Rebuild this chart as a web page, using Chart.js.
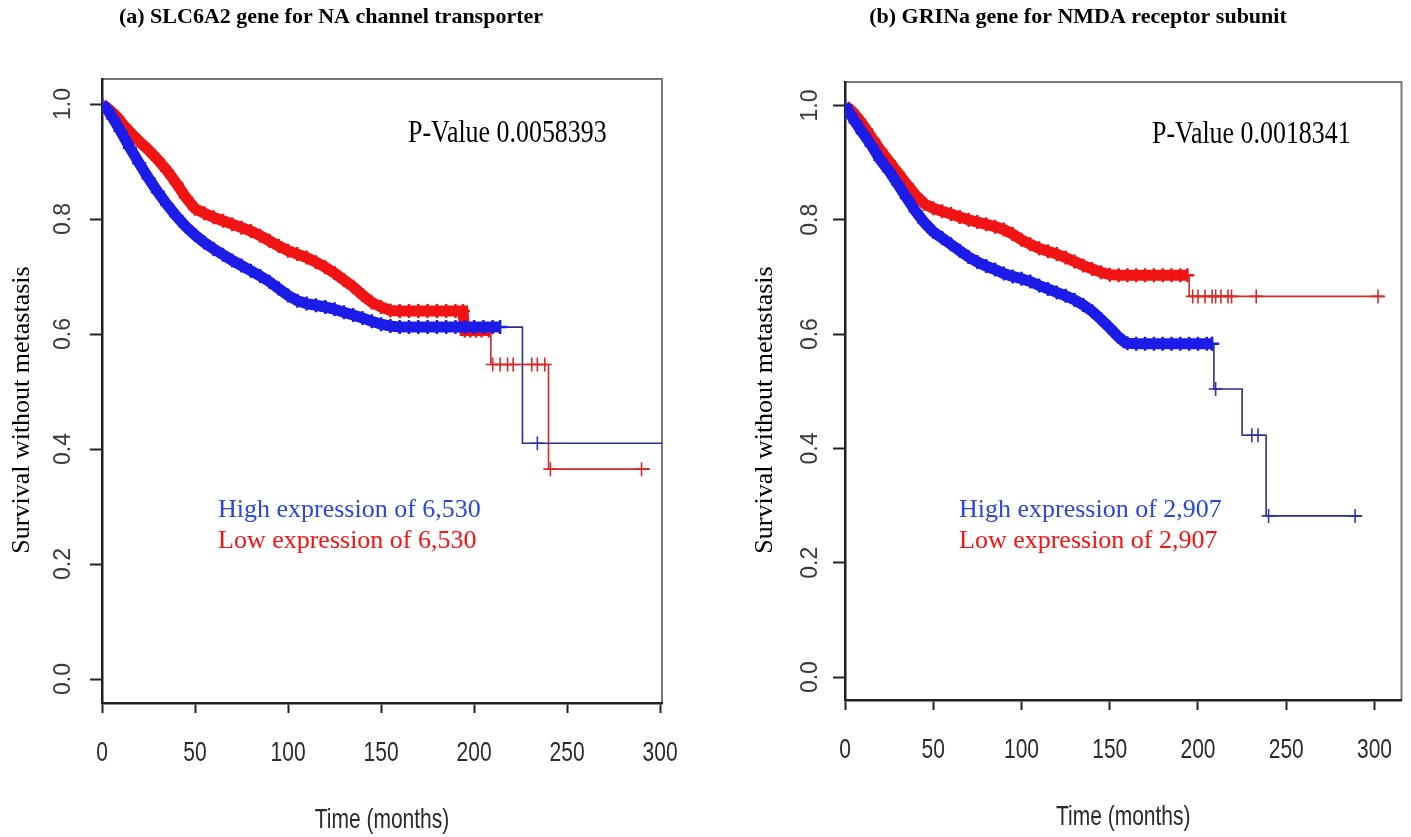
<!DOCTYPE html>
<html>
<head>
<meta charset="utf-8">
<title>Survival without metastasis</title>
<style>
  body { margin: 0; background: #fff; }
  .wrap { position: relative; width: 1411px; height: 837px; }
  canvas { position: absolute; top: 0; }
  #chartA { left: 0; }
  #chartB { left: 705px; }
</style>
</head>
<body>
<div class="wrap">
  <canvas id="chartA" width="705" height="837"></canvas>
  <canvas id="chartB" width="706" height="837"></canvas>
</div>

<script src="https://cdn.jsdelivr.net/npm/chart.js"></script>
<script>

// axis ticks
const xTicks = [0, 50, 100, 150, 200, 250, 300];
const yTicks = [0, 0.2, 0.4, 0.6, 0.8, 1.0];

// (a) SLC6A2 - high expression (blue), dense part
const aHighTime = [0, 3, 6, 10, 15, 20, 25, 30, 35, 40, 45, 50, 55, 60, 65, 70, 75, 80, 85, 90, 95, 100, 105, 110, 115, 120, 125, 130, 135, 140, 145, 150, 155, 160, 165, 170, 175, 180, 185, 190, 195, 200, 205, 210, 214];
const aHighSurv = [1.0, 0.99, 0.975, 0.953, 0.924, 0.897, 0.871, 0.847, 0.825, 0.805, 0.787, 0.772, 0.759, 0.748, 0.738, 0.728, 0.719, 0.71, 0.701, 0.691, 0.679, 0.667, 0.658, 0.653, 0.65, 0.647, 0.643, 0.638, 0.633, 0.628, 0.622, 0.617, 0.614, 0.612, 0.612, 0.612, 0.612, 0.612, 0.612, 0.612, 0.612, 0.612, 0.612, 0.612, 0.612];
const aHighTailTime = [214, 226, 303];
const aHighTailSurv = [0.612, 0.41, 0.41];
const aHighCensTime = [234];
const aHighCensSurv = [0.41];

// (a) SLC6A2 - low expression (red)
const aLowTime = [0, 4, 8, 12, 16, 20, 25, 30, 35, 40, 45, 50, 55, 60, 65, 70, 75, 80, 85, 90, 95, 100, 105, 110, 115, 120, 125, 130, 135, 140, 145, 150, 155, 160, 165, 170, 175, 180, 185, 190, 194, 195, 198, 201, 204, 208];
const aLowSurv = [1.0, 0.99, 0.978, 0.962, 0.948, 0.935, 0.92, 0.903, 0.884, 0.862, 0.838, 0.818, 0.81, 0.803, 0.797, 0.791, 0.785, 0.779, 0.771, 0.762, 0.753, 0.745, 0.739, 0.733, 0.725, 0.716, 0.706, 0.694, 0.682, 0.668, 0.655, 0.647, 0.641, 0.64, 0.64, 0.64, 0.64, 0.64, 0.64, 0.64, 0.64, 0.606, 0.606, 0.606, 0.606, 0.606];
const aLowTailTime = [208, 209, 240, 294.5];
const aLowTailSurv = [0.606, 0.547, 0.365, 0.365];
const aLowCensTime = [210, 214, 218, 221, 231, 234, 238, 241, 290];
const aLowCensSurv = [0.547, 0.547, 0.547, 0.547, 0.547, 0.547, 0.547, 0.365, 0.365];

// (b) GRINa - high expression (blue)
const bHighTime = [0, 3, 6, 10, 15, 20, 25, 30, 35, 40, 45, 50, 55, 60, 65, 70, 75, 80, 85, 90, 95, 100, 105, 110, 115, 120, 125, 130, 135, 140, 145, 150, 155, 158, 160, 165, 170, 175, 180, 185, 190, 195, 200, 205, 208];
const bHighSurv = [1.0, 0.985, 0.97, 0.952, 0.93, 0.905, 0.885, 0.862, 0.838, 0.815, 0.795, 0.779, 0.768, 0.757, 0.746, 0.735, 0.726, 0.719, 0.713, 0.706, 0.701, 0.697, 0.692, 0.685, 0.679, 0.673, 0.667, 0.66, 0.651, 0.64, 0.626, 0.611, 0.595, 0.587, 0.584, 0.583, 0.583, 0.583, 0.583, 0.583, 0.583, 0.583, 0.583, 0.583, 0.583];
const bHighTailTime = [208, 209, 225, 238.6, 293];
const bHighTailSurv = [0.583, 0.504, 0.423, 0.282, 0.282];
const bHighCensTime = [208, 210, 230.5, 234, 240, 289];
const bHighCensSurv = [0.583, 0.504, 0.423, 0.423, 0.282, 0.282];

// (b) GRINa - low expression (red)
const bLowTime = [0, 4, 8, 12, 16, 20, 25, 30, 35, 40, 45, 50, 55, 60, 65, 70, 75, 80, 85, 90, 95, 100, 105, 110, 115, 120, 125, 130, 135, 140, 145, 150, 155, 160, 165, 170, 175, 180, 185, 190, 194];
const bLowSurv = [1.0, 0.99, 0.975, 0.958, 0.94, 0.922, 0.902, 0.882, 0.862, 0.843, 0.828, 0.82, 0.815, 0.81, 0.805, 0.8, 0.796, 0.792, 0.788, 0.783, 0.775, 0.765, 0.757, 0.75, 0.745, 0.74, 0.734, 0.727, 0.72, 0.714, 0.708, 0.704, 0.703, 0.703, 0.703, 0.703, 0.703, 0.703, 0.703, 0.703, 0.703];
const bLowTailTime = [194, 195, 305.5];
const bLowTailSurv = [0.703, 0.666, 0.666];
const bLowCensTime = [197, 200, 204, 208, 210, 213, 217, 219, 233, 302];
const bLowCensSurv = [0.666, 0.666, 0.666, 0.666, 0.666, 0.666, 0.666, 0.666, 0.666, 0.666];

const BLUE = '#1c1ce8';
const BLUE_DARK = '#2e2e8e';
const RED = '#f01414';
const RED_DARK = '#d82828';
const sans = "'Liberation Sans', Arial, sans-serif";
const serif = "'Liberation Serif', 'Times New Roman', serif";

function pts(t, s) {
    return t.map((v, i) => ({x: v, y: s[i]}));
}

function band(t, s, color) {
    return {
        data: pts(t, s), showLine: true, borderColor: color, borderWidth: 11,
        pointStyle: 'cross', pointRadius: 7, pointHoverRadius: 7,
        pointBorderWidth: 2.5, pointBorderColor: color, pointBackgroundColor: color
    };
}

function tail(t, s, color) {
    return {
        data: pts(t, s), showLine: true, stepped: 'before',
        borderColor: color, borderWidth: 1.6, pointRadius: 0, pointHoverRadius: 0
    };
}

function cens(t, s, color) {
    return {
        data: pts(t, s), showLine: false, pointStyle: 'cross',
        pointRadius: 7, pointHoverRadius: 7, pointBorderWidth: 1.6,
        pointBorderColor: color, pointBackgroundColor: color
    };
}

// box around the plot region, like R's box()
const boxPlugin = {
    id: 'box',
    beforeDraw(chart) {
        const a = chart.chartArea;
        const ctx = chart.ctx;
        ctx.save();
        ctx.strokeStyle = '#777';
        ctx.lineWidth = 2;
        ctx.strokeRect(a.left, a.top, a.right - a.left, a.bottom - a.top);
        ctx.restore();
    }
};

// x tick labels and x title, drawn narrow like the squeezed R output
const xLabelPlugin = {
    id: 'xLabels',
    afterDraw(chart) {
        const sc = chart.scales.x;
        const ctx = chart.ctx;
        ctx.save();
        ctx.fillStyle = '#2a2a2a';
        ctx.font = '28px ' + sans;
        ctx.textAlign = 'center';
        ctx.textBaseline = 'middle';
        sc.ticks.forEach(t => {
            ctx.save();
            ctx.translate(sc.getPixelForValue(t.value), sc.top + 50);
            ctx.scale(0.75, 1);
            ctx.fillText(String(t.value), 0, 0);
            ctx.restore();
        });
        ctx.translate((sc.left + sc.right) / 2, sc.top + 117);
        ctx.scale(0.75, 1);
        ctx.fillText('Time (months)', 0, 0);
        ctx.restore();
    }
};

function textPlugin(items) {
    return {
        id: 'panelText',
        afterDraw(chart) {
            const ctx = chart.ctx;
            items.forEach(it => {
                ctx.save();
                ctx.translate(it.x, it.y);
                if (it.rotate) ctx.rotate(it.rotate);
                if (it.sx) ctx.scale(it.sx, 1);
                ctx.font = it.font;
                ctx.fillStyle = it.color || '#000';
                ctx.textAlign = it.align || 'left';
                ctx.textBaseline = it.baseline || 'alphabetic';
                ctx.fillText(it.text, 0, 0);
                ctx.restore();
            });
        }
    };
}

function makeChart(id, cfg) {
    return new Chart(document.getElementById(id), {
        type: 'scatter',
        data: {
            datasets: [
                band(cfg.highTime, cfg.highSurv, BLUE),
                tail(cfg.highTailTime, cfg.highTailSurv, BLUE_DARK),
                cens(cfg.highCensTime, cfg.highCensSurv, '#3434c4'),
                band(cfg.lowTime, cfg.lowSurv, RED),
                tail(cfg.lowTailTime, cfg.lowTailSurv, RED_DARK),
                cens(cfg.lowCensTime, cfg.lowCensSurv, RED_DARK)
            ]
        },
        options: {
            responsive: false,
            animation: false,
            events: [],
            layout: { padding: cfg.padding },
            plugins: { legend: { display: false }, tooltip: { enabled: false } },
            scales: {
                x: {
                    type: 'linear', min: 0, max: cfg.xMax,
                    afterBuildTicks: s => { s.ticks = xTicks.map(v => ({value: v})); },
                    afterFit: s => { s.height = cfg.xAxisHeight; },
                    ticks: { display: false },
                    grid: { drawOnChartArea: false, drawTicks: true, tickLength: 10, tickWidth: 2, tickColor: '#222' },
                    border: { display: true, color: '#222', width: 2.5 }
                },
                y: {
                    type: 'linear', min: cfg.yMin, max: cfg.yMax,
                    afterBuildTicks: s => { s.ticks = yTicks.map(v => ({value: v})); },
                    afterFit: s => { s.width = cfg.yAxisWidth; },
                    ticks: {
                        font: { family: sans, size: 23 }, color: '#3a3a3a',
                        padding: cfg.yTickPad, minRotation: 90, maxRotation: 90, crossAlign: 'center',
                        callback: v => v.toFixed(1)
                    },
                    grid: { drawOnChartArea: false, drawTicks: true, tickLength: 12, tickWidth: 2, tickColor: '#222' },
                    border: { display: true, color: '#222', width: 2.5 }
                }
            }
        },
        plugins: [boxPlugin, xLabelPlugin, textPlugin(cfg.texts)]
    });
}

makeChart('chartA', {
    highTime: aHighTime, highSurv: aHighSurv,
    highTailTime: aHighTailTime, highTailSurv: aHighTailSurv,
    highCensTime: aHighCensTime, highCensSurv: aHighCensSurv,
    lowTime: aLowTime, lowSurv: aLowSurv,
    lowTailTime: aLowTailTime, lowTailSurv: aLowTailSurv,
    lowCensTime: aLowCensTime, lowCensSurv: aLowCensSurv,
    xMax: 301, yMin: -0.0417, yMax: 1.0435,
    padding: { left: 0, right: 43, top: 79, bottom: 0 },
    yAxisWidth: 102, xAxisHeight: 134, yTickPad: 10,
    texts: [
        { text: '(a) SLC6A2 gene for NA channel transporter', x: 331, y: 17, font: 'bold 22px ' + serif, align: 'center', baseline: 'middle' },
        { text: 'Survival without metastasis', x: 22, y: 410, rotate: -Math.PI / 2, font: '26px ' + serif, align: 'center', baseline: 'middle' },
        { text: 'P-Value 0.0058393', x: 408, y: 142, sx: 0.81, font: '32px ' + serif },
        { text: 'High expression of 6,530', x: 218, y: 517, font: '26px ' + serif, color: '#2a46dc' },
        { text: 'Low expression of 6,530', x: 218, y: 548, font: '26px ' + serif, color: '#ff1010' }
    ]
});

makeChart('chartB', {
    highTime: bHighTime, highSurv: bHighSurv,
    highTailTime: bHighTailTime, highTailSurv: bHighTailSurv,
    highCensTime: bHighCensTime, highCensSurv: bHighCensSurv,
    lowTime: bLowTime, lowSurv: bLowSurv,
    lowTailTime: bLowTailTime, lowTailSurv: bLowTailSurv,
    lowCensTime: bLowCensTime, lowCensSurv: bLowCensSurv,
    xMax: 315.3, yMin: -0.040, yMax: 1.041,
    padding: { left: 0, right: 7, top: 82, bottom: 0 },
    yAxisWidth: 140, xAxisHeight: 137, yTickPad: 6,
    texts: [
        { text: '(b) GRINa gene for NMDA receptor subunit', x: 373, y: 17, font: 'bold 22px ' + serif, align: 'center', baseline: 'middle' },
        { text: 'Survival without metastasis', x: 60, y: 410, rotate: -Math.PI / 2, font: '26px ' + serif, align: 'center', baseline: 'middle' },
        { text: 'P-Value 0.0018341', x: 447, y: 143, sx: 0.81, font: '32px ' + serif },
        { text: 'High expression of 2,907', x: 254, y: 517, font: '26px ' + serif, color: '#2a46dc' },
        { text: 'Low expression of 2,907', x: 254, y: 548, font: '26px ' + serif, color: '#ff1010' }
    ]
});
</script>
</body>
</html>
